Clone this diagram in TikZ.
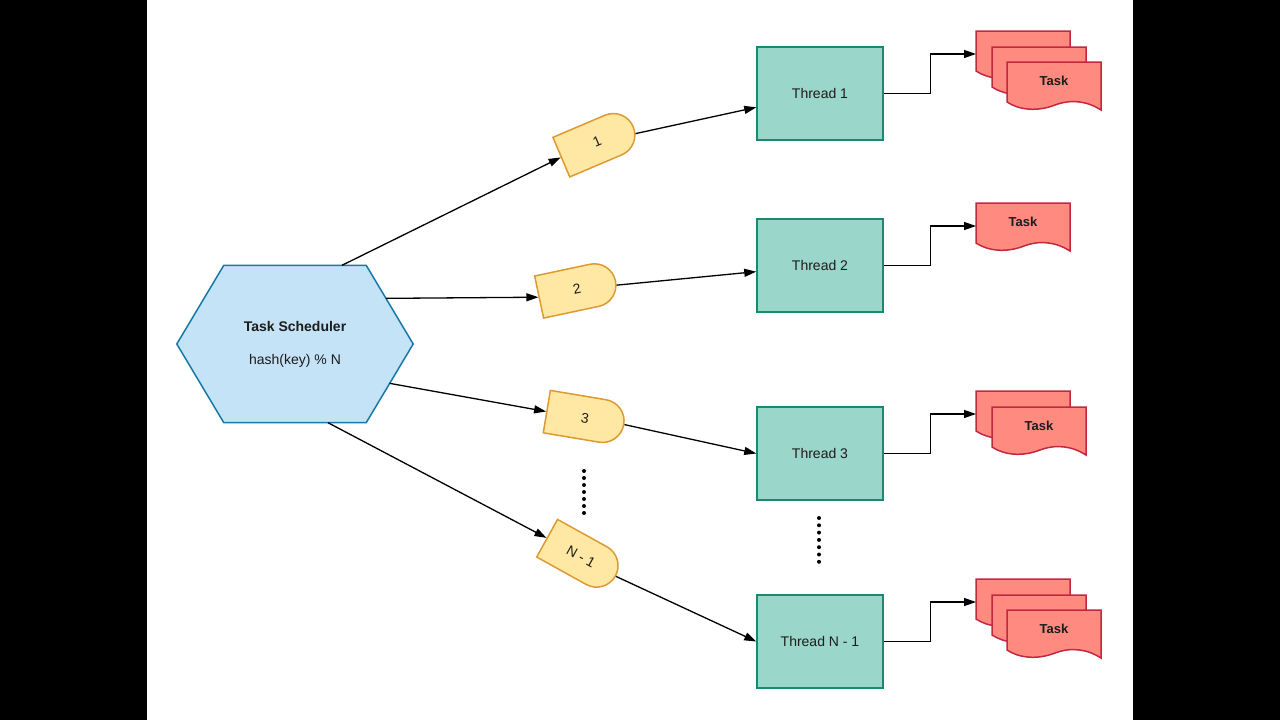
\documentclass[tikz,border=0pt]{standalone}
\usepackage{fontspec}
\setmainfont{Liberation Sans}
\usetikzlibrary{shapes.misc,arrows.meta,calc}
\definecolor{hexfill}{HTML}{C5E3F6}
\definecolor{hexline}{HTML}{1878A8}
\definecolor{gatefill}{HTML}{FFE8A4}
\definecolor{gateline}{HTML}{DE9A32}
\definecolor{thrfill}{HTML}{9AD6C9}
\definecolor{thrline}{HTML}{178A70}
\definecolor{docfill}{HTML}{FF8B80}
\definecolor{docline}{HTML}{C3283F}
\definecolor{ink}{HTML}{1C1C1C}
\tikzset{
  arr/.style={line width=1.3pt,-{Triangle[length=12pt,width=8pt]}},
  hexbox/.style={minimum width=236pt,minimum height=157pt,inner sep=0pt},
  gatebox/.style={rounded rectangle,rounded rectangle west arc=none,draw=gateline,fill=gatefill,
    line width=1.5pt,minimum width=78pt,minimum height=43pt,inner sep=0pt,text=ink,
    font=\fontsize{14}{16}\selectfont},
  thread/.style={draw=thrline,fill=thrfill,line width=1.5pt,minimum width=126pt,
    minimum height=93pt,text=ink,font=\fontsize{14}{16}\selectfont},
  pics/taskdoc/.style={code={
    \filldraw[draw=docline,fill=docfill,line width=1.5pt] (0,0) -- (94,0) -- (94,48)
      .. controls (80,39) and (64,37) .. (48,43) .. controls (30,50) and (12,48) .. (0,40) -- cycle;
    \coordinate (-in) at (0,23);
    \node[text=ink,font=\bfseries\fontsize{13}{15}\selectfont] (-lbl) at (47,19) {#1};
  }},
  pics/taskdoc/.default={}
}
\begin{document}
\begin{tikzpicture}[x=1pt,y=-1pt]
\useasboundingbox (0,0) rectangle (1280,720);
\fill[black] (0,0) rectangle (147,720);
\fill[white] (147,0) rectangle (1133,720);
\fill[black] (1133,0) rectangle (1280,720);

% scheduler
\node[hexbox] (hex) at (295,344) {};
\filldraw[draw=hexline,fill=hexfill,line width=1.5pt] (hex.west) -- ([xshift=47pt]hex.north west)
  -- ([xshift=-47pt]hex.north east) -- (hex.east) -- ([xshift=-47pt]hex.south east)
  -- ([xshift=47pt]hex.south west) -- cycle;
\node[align=center,text=ink,font=\fontsize{14}{16}\selectfont] (sched) at (hex)
  {\textbf{Task Scheduler}\\[17pt]hash(key) \% N};

% queues
\node[gatebox,rotate=23] (g1) at (597,142) {1};
\node[gatebox,rotate=12] (g2) at (577,289) {2};
\node[gatebox,rotate=-9.5] (g3) at (585,418) {3};
\node[gatebox,rotate=-29] (gN) at (581,557) {N - 1};

% threads
\node[thread] (t1) at (820,93.5) {Thread 1};
\node[thread] (t2) at (820,265.5) {Thread 2};
\node[thread] (t3) at (820,453.5) {Thread 3};
\node[thread] (tN) at (820,641.5) {Thread N - 1};

% tasks
\pic (d1a) at (976,31) {taskdoc};
\pic (d1b) at (992,47) {taskdoc};
\pic (d1c) at (1007,62) {taskdoc=Task};
\pic (d2a) at (976,203) {taskdoc=Task};
\pic (d3a) at (976,391) {taskdoc};
\pic (d3b) at (992,407) {taskdoc=Task};
\pic (dNa) at (976,579) {taskdoc};
\pic (dNb) at (992,595) {taskdoc};
\pic (dNc) at (1007,610) {taskdoc=Task};

% connectors
\draw[arr] ([xshift=47pt]hex.north) -- (g1.west);
\draw[arr] ($([xshift=-47pt]hex.north east)!0.42!(hex.east)$) -- (g2.west);
\draw[arr] ($(hex.east)!0.5!([xshift=-47pt]hex.south east)$) -- (g3.west);
\draw[arr] ([xshift=33pt]hex.south) -- (gN.west);
\draw[arr] (g1) -- (t1);
\draw[arr] (g2) -- (t2);
\draw[arr] (g3.east) -- (t3.west);
\draw[arr] (gN.east) -- (tN.west);
\draw[arr] (t1.east) -- ++(47,0) |- (d1a-in);
\draw[arr] (t2.east) -- ++(47,0) |- (d2a-in);
\draw[arr] (t3.east) -- ++(47,0) |- (d3a-in);
\draw[arr] (tN.east) -- ++(47,0) |- (dNa-in);

% dots
\foreach \k in {0,...,6} {
  \fill (584,471+7*\k) circle (2pt);
  \fill (819,518+7.3*\k) circle (2pt);
}
\end{tikzpicture}
\end{document}
